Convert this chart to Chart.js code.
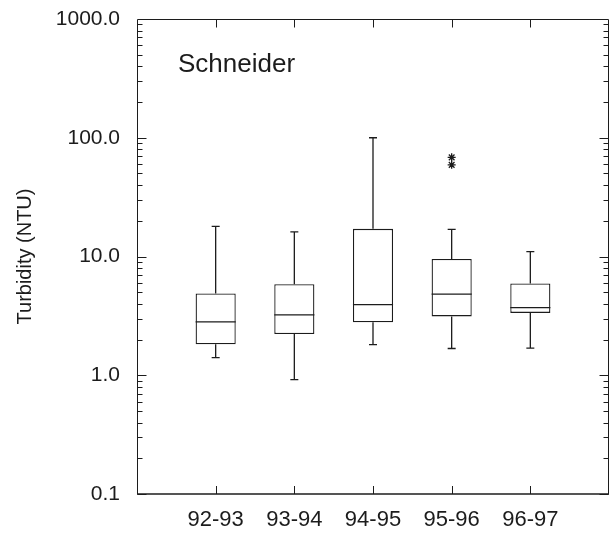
<!DOCTYPE html>
<html>
<head>
<meta charset="utf-8">
<script src="https://cdn.jsdelivr.net/npm/chart.js@4.4.1/dist/chart.umd.min.js"></script>
<style>
  html, body { margin: 0; padding: 0; background: #fff; }
  #wrap { width: 616px; height: 534px; position: relative; }
</style>
</head>
<body>
<div id="wrap"><canvas id="c"></canvas></div>
<script>
// ---- data ----
const categories  = ['92-93', '93-94', '94-95', '95-96', '96-97'];
const whiskerLow  = [1.41, 0.92, 1.81, 1.68, 1.69];
const quartile1   = [1.82, 2.22, 2.79, 3.13, 3.35];
const medians     = [2.81, 3.22, 3.93, 4.83, 3.71];
const quartile3   = [4.88, 5.85, 17.1, 9.53, 5.92];
const whiskerHigh = [17.9, 16.1, 100, 16.9, 11.0];
const outlierCategory = ['95-96', '95-96'];
const outlierValues   = [68.4, 59.1];
const yTickValues = [0.1, 1, 10, 100, 1000];
const siteLabel = 'Schneider';
const yTitle = 'Turbidity (NTU)';

const INK = '#1c1c1c';
const FONT = '"Liberation Sans", Arial, sans-serif';

const boxPlotDecor = {
  id: 'boxPlotDecor',
  afterDatasetsDraw(chart) {
    const ctx = chart.ctx;
    const y = chart.scales.y;
    const meta = chart.getDatasetMeta(0);
    ctx.save();
    ctx.strokeStyle = INK;
    ctx.lineWidth = 1.3;
    categories.forEach((c, i) => {
      const bar = meta.data[i];
      const cx = bar.x, hw = bar.width / 2;
      const yLo = y.getPixelForValue(whiskerLow[i]);
      const yQ1 = y.getPixelForValue(quartile1[i]);
      const yMd = y.getPixelForValue(medians[i]);
      const yQ3 = y.getPixelForValue(quartile3[i]);
      const yHi = y.getPixelForValue(whiskerHigh[i]);
      ctx.beginPath();
      ctx.moveTo(cx, yQ3); ctx.lineTo(cx, yHi);
      ctx.moveTo(cx - 4, yHi); ctx.lineTo(cx + 4, yHi);
      ctx.moveTo(cx, yQ1); ctx.lineTo(cx, yLo);
      ctx.moveTo(cx - 4, yLo); ctx.lineTo(cx + 4, yLo);
      ctx.moveTo(cx - hw, yMd); ctx.lineTo(cx + hw, yMd);
      ctx.stroke();
    });
    ctx.restore();
  },
  afterDraw(chart) {
    const ctx = chart.ctx;
    const a = chart.chartArea;
    const x = chart.scales.x, y = chart.scales.y;
    const L = Math.round(a.left) + 0.5, R = Math.round(a.right) - 0.5;
    const T = Math.round(a.top) + 0.5, B = Math.round(a.bottom);
    ctx.save();
    ctx.strokeStyle = INK;
    ctx.lineWidth = 1;
    ctx.beginPath();
    ctx.moveTo(L, T); ctx.lineTo(R, T);
    ctx.moveTo(R, T); ctx.lineTo(R, B);
    ctx.moveTo(L, B); ctx.lineTo(L, T);
    ctx.stroke();
    ctx.lineWidth = 1.6;
    ctx.beginPath();
    ctx.moveTo(L - 0.5, B); ctx.lineTo(R + 0.5, B);
    ctx.stroke();
    ctx.lineWidth = 1;
    ctx.beginPath();
    for (let d = -1; d <= 2; d++) {
      for (let m = 1; m <= 9; m++) {
        const v = m * Math.pow(10, d);
        const py = Math.round(y.getPixelForValue(v)) + 0.5;
        const len = m === 1 ? 9 : 5;
        ctx.moveTo(L, py); ctx.lineTo(L + len, py);
        ctx.moveTo(R, py); ctx.lineTo(R - len, py);
      }
    }
    categories.forEach((c, i) => {
      const px = Math.round(x.getPixelForValue(i + 1)) + 0.5;
      ctx.moveTo(px, B); ctx.lineTo(px, B - 8);
      ctx.moveTo(px, T); ctx.lineTo(px, T + 8);
    });
    ctx.stroke();
    ctx.fillStyle = INK;
    ctx.font = '26px ' + FONT;
    ctx.textBaseline = 'alphabetic';
    ctx.textAlign = 'left';
    ctx.fillText(siteLabel, a.left + 41, a.top + 53);
    ctx.restore();
  }
};

new Chart(document.getElementById('c'), {
  type: 'bar',
  data: {
    datasets: [
      {
        type: 'bar',
        data: categories.map((c, i) => ({ x: i + 1, y: [quartile1[i], quartile3[i]] })),
        backgroundColor: '#ffffff',
        borderColor: INK,
        borderWidth: 1.3,
        borderSkipped: false,
        barPercentage: 0.51,
        categoryPercentage: 1
      },
      {
        type: 'scatter',
        data: outlierValues.map((v, k) => ({ x: categories.indexOf(outlierCategory[k]) + 1, y: v })),
        pointStyle: 'star',
        radius: 4,
        borderColor: INK,
        backgroundColor: INK,
        borderWidth: 1.3
      }
    ]
  },
  options: {
    responsive: true,
    maintainAspectRatio: false,
    animation: false,
    events: [],
    layout: { padding: { left: 0, top: 19, right: 7, bottom: 0 } },
    plugins: { legend: { display: false }, tooltip: { enabled: false }, title: { display: false } },
    scales: {
      x: {
        type: 'linear',
        offset: false,
        min: 0, max: 6,
        grid: { display: false, drawTicks: false, offset: false },
        border: { display: false },
        afterBuildTicks: s => { s.ticks = categories.map((c, i) => ({ value: i + 1 })); },
        afterFit: s => { s.height = 40; s.paddingLeft = 0; s.paddingRight = 0; },
        ticks: {
          autoSkip: false,
          maxRotation: 0,
          padding: 13,
          color: INK,
          font: { family: FONT, size: 22 },
          callback: v => categories[v - 1]
        }
      },
      y: {
        type: 'logarithmic',
        min: 0.1, max: 1000,
        grid: { display: false, drawTicks: false },
        border: { display: false },
        afterBuildTicks: s => { s.ticks = yTickValues.map(v => ({ value: v })); },
        afterFit: s => { s.width = 137; s.paddingTop = 0; s.paddingBottom = 0; },
        ticks: {
          padding: 17,
          color: INK,
          font: { family: FONT, size: 21 },
          callback: v => Number(v).toFixed(1)
        },
        title: {
          display: true,
          text: yTitle,
          color: INK,
          font: { family: FONT, size: 20 },
          padding: { top: 13, bottom: 0 }
        }
      }
    }
  },
  plugins: [boxPlotDecor]
});
</script>
</body>
</html>
